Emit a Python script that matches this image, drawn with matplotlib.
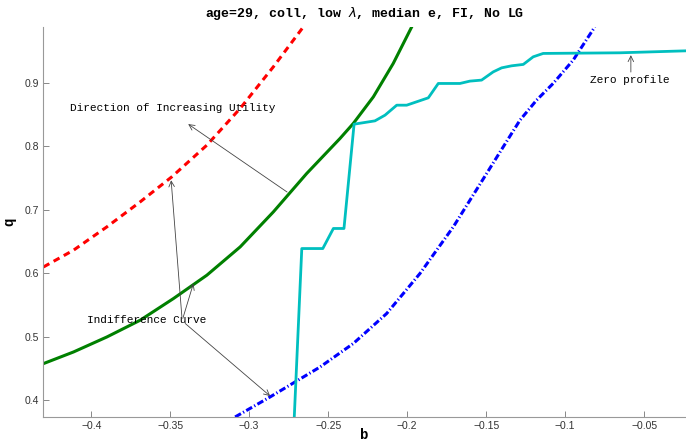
import numpy as np
import matplotlib.pyplot as plt

#
# curves (b, q)
red_b = [-0.4302, -0.4112, -0.3901, -0.369, -0.349, -0.3268, -0.3057, -0.2847, -0.2657]
red_q = [0.610, 0.6364, 0.6731, 0.7125, 0.7519, 0.8018, 0.8597, 0.9252, 0.9882]

green_b = [-0.4302, -0.4112, -0.3901, -0.369, -0.3479, -0.3268, -0.3057, -0.2847, -0.2636,
           -0.2425, -0.2341, -0.2214, -0.2088, -0.1971]
green_q = [0.4578, 0.4761, 0.4997, 0.5261, 0.5603, 0.5970, 0.6416, 0.6967, 0.7572,
           0.8124, 0.836, 0.8779, 0.9306, 0.9882]

blue_b = [-0.3089, -0.2868, -0.2551, -0.2341, -0.213, -0.1919, -0.1708, -0.1497, -0.1392,
          -0.1286, -0.1181, -0.1076, -0.0949, -0.0812]
blue_q = [0.3737, 0.4052, 0.4525, 0.4894, 0.5366, 0.5997, 0.6731, 0.7572, 0.7991,
          0.8412, 0.8727, 0.899, 0.9358, 0.9882]

zero_b = [-0.2717, -0.2667, -0.2534, -0.2467, -0.240, -0.2336, -0.2204, -0.214, -0.2066, -0.2003,
          -0.1866, -0.1803, -0.1666, -0.1603, -0.1529, -0.1455, -0.1402, -0.1339, -0.1265, -0.1202,
          -0.1139, -0.0654, -0.0236]
zero_q = [0.360, 0.639, 0.639, 0.6706, 0.6706, 0.8349, 0.8401, 0.8491, 0.8648, 0.8648,
          0.8764, 0.899, 0.899, 0.9027, 0.9043, 0.9173, 0.9236, 0.9268, 0.929, 0.941,
          0.9463, 0.9473, 0.9504]

xticks = [-0.4, -0.35, -0.3, -0.25, -0.2, -0.15, -0.1, -0.05]
yticks = [0.4, 0.5, 0.6, 0.7, 0.8, 0.9]

mono = 'Liberation Mono'

fig = plt.figure(figsize=(6.86, 4.42), dpi=100)
ax = fig.add_axes([0.0627, 0.0566, 0.9373, 0.8824])

ax.plot(red_b, red_q, c='#ff0000', lw=2.2, ls=(0, (2.2, 1.6)))
ax.plot(green_b, green_q, c='#008000', lw=2.2)
ax.plot(blue_b, blue_q, c='#0000ff', lw=2.2, ls=(0, (2.2, 0.8, 0.4, 0.8)))
ax.plot(zero_b, zero_q, c='#00bfbf', lw=2.0)

ax.set_xlim([-0.4305, -0.0235])
ax.set_ylim([0.3737, 0.988])
ax.set_xticks(xticks)
ax.set_yticks(yticks)
ax.set_xticklabels(['\u22120.4', '\u22120.35', '\u22120.3', '\u22120.25', '\u22120.2',
                    '\u22120.15', '\u22120.1', '\u22120.05'])
ax.set_yticklabels(['0.4', '0.5', '0.6', '0.7', '0.8', '0.9'])
ax.tick_params(direction='in', length=4, width=0.7, color='#888888',
               labelsize=7.5, labelcolor='#333333', pad=3)
for t in ax.get_xticklabels() + ax.get_yticklabels():
    t.set_family('Liberation Sans')

for s in ['top', 'right']:
    ax.spines[s].set_visible(False)
for s in ['left', 'bottom']:
    ax.spines[s].set_color('#999999')
    ax.spines[s].set_linewidth(0.8)

ax.set_title('age=29, coll, low $\\lambda$, median e, FI, No LG', family=mono,
             fontweight='bold', fontsize=9.5, pad=7)
ax.set_xlabel('b', family=mono, fontweight='bold', fontsize=10, labelpad=-2)
ax.set_ylabel('q', family=mono, fontweight='bold', fontsize=10, labelpad=6)

#
# annotations
arr = dict(arrowstyle='->', color='#444444', lw=0.6, shrinkA=0, shrinkB=0)

ax.text(-0.4133, 0.860, 'Direction of Increasing Utility', family=mono,
        fontsize=8, va='center', ha='left')
ax.annotate('', xy=(-0.3386, 0.835), xytext=(-0.276, 0.728), arrowprops=arr)

ax.text(-0.4025, 0.5263, 'Indifference Curve', family=mono,
        fontsize=8, va='center', ha='left')
ax.annotate('', xy=(-0.3494, 0.7465), xytext=(-0.3426, 0.5315), arrowprops=arr)
ax.annotate('', xy=(-0.3353, 0.584), xytext=(-0.342, 0.529), arrowprops=arr)
ax.annotate('', xy=(-0.2867, 0.4066), xytext=(-0.3405, 0.521), arrowprops=arr)

ax.text(-0.0842, 0.904, 'Zero profile', family=mono,
        fontsize=8, va='center', ha='left')
ax.annotate('', xy=(-0.0584, 0.9436), xytext=(-0.0584, 0.917), arrowprops=arr)

fig.savefig('out.png', dpi=100)
plt.close()
